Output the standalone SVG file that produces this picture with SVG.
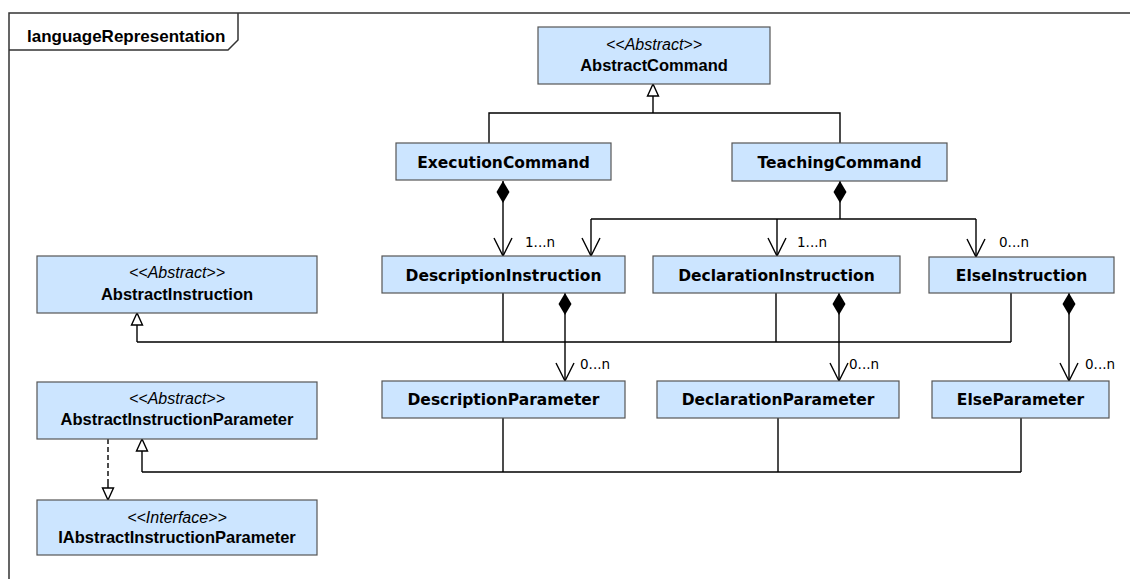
<svg xmlns="http://www.w3.org/2000/svg" width="1130" height="579" viewBox="0 0 1130 579">
<style>
.box{fill:#cce5ff;stroke:#555;stroke-width:1.2}
.h{font-family:"Liberation Sans",Arial,sans-serif;font-size:16.5px;font-weight:bold;text-anchor:middle;fill:#000}
.st{font-family:"Liberation Sans",Arial,sans-serif;font-size:16px;font-style:italic;text-anchor:middle;fill:#000}
.v{font-family:"DejaVu Sans",Verdana,sans-serif;font-size:15.5px;font-weight:bold;text-anchor:middle;fill:#000}
.m{font-family:"DejaVu Sans",Verdana,sans-serif;font-size:13.5px;fill:#000}
.ln{fill:none;stroke:#000;stroke-width:1.4}
.gen{marker-end:url(#tri)}
.comp{marker-start:url(#dia);marker-end:url(#vee)}
.dash{stroke-dasharray:5,3}
</style>
<defs>
<marker id="tri" markerUnits="userSpaceOnUse" viewBox="-13 -7 14 14" markerWidth="14" markerHeight="14" refX="0" refY="0" orient="auto" overflow="visible">
<path d="M0,0 L-12,-5.5 L-12,5.5 Z" fill="#fff" stroke="#000" stroke-width="1.4"/>
</marker>
<marker id="dia" markerUnits="userSpaceOnUse" viewBox="-1 -8 25 16" markerWidth="25" markerHeight="16" refX="0" refY="0" orient="auto" overflow="visible">
<path d="M0,0 L11,-6.5 L22,0 L11,6.5 Z" fill="#000"/>
</marker>
<marker id="vee" markerUnits="userSpaceOnUse" viewBox="-20 -11 22 22" markerWidth="22" markerHeight="22" refX="0" refY="0" orient="auto" overflow="visible">
<path d="M-18,-9 L0,0 L-18,9" fill="none" stroke="#000" stroke-width="1.4"/>
</marker>
</defs>
<rect width="1130" height="579" fill="#fff"/>
<g id="frame">
<path d="M9,600 V13 H1140" fill="none" stroke="#333" stroke-width="1.5"/>
<path d="M9,50 H228 L238,40 V13" fill="none" stroke="#333" stroke-width="1.5"/>
<text x="27" y="42" style="font-family:'Liberation Sans',Arial,sans-serif;font-size:17px;font-weight:bold">languageRepresentation</text>
</g>
<g id="connectors">
<path class="ln" d="M489,143 V113 H840 V143"/>
<path class="ln gen" d="M653,113 V84"/>
<path class="ln comp" d="M503,181 V256"/>
<path class="ln" marker-start="url(#dia)" d="M840,181 V219"/>
<path class="ln" d="M591,219 H976"/>
<path class="ln" marker-end="url(#vee)" d="M591,219 V256"/>
<path class="ln" marker-end="url(#vee)" d="M777,219 V256"/>
<path class="ln" marker-end="url(#vee)" d="M976,219 V257"/>
<path class="ln" d="M503,293 V342 M776,293 V342 M1011,293 V342 M137,342 H1011"/>
<path class="ln gen" d="M137,342 V313"/>
<path class="ln comp" d="M565,293 V381"/>
<path class="ln comp" d="M839,293 V381"/>
<path class="ln comp" d="M1069,293 V381"/>
<path class="ln" d="M503,418 V472 M778,418 V472 M1021,418 V472 M142,472 H1021"/>
<path class="ln gen" d="M142,472 V439"/>
<path class="ln dash" d="M108,439 V485"/>
<path class="ln gen" d="M108,484 V500"/>
<text class="m" x="525" y="247">1...n</text>
<text class="m" x="797" y="247">1...n</text>
<text class="m" x="999" y="247">0...n</text>
<text class="m" x="580" y="369">0...n</text>
<text class="m" x="849" y="369">0...n</text>
<text class="m" x="1085" y="369">0...n</text>
</g>
<g id="AbstractCommand">
<rect class="box" x="538" y="27" width="232" height="57"/>
<text class="st" x="654" y="50">&lt;&lt;Abstract&gt;&gt;</text>
<text class="h" x="654" y="71">AbstractCommand</text>
</g>
<g id="ExecutionCommand">
<rect class="box" x="396" y="143" width="215" height="37"/>
<text class="v" x="503.5" y="168">ExecutionCommand</text>
</g>
<g id="TeachingCommand">
<rect class="box" x="732" y="143" width="215" height="38"/>
<text class="v" x="839.5" y="168">TeachingCommand</text>
</g>
<g id="AbstractInstruction">
<rect class="box" x="37" y="256" width="280" height="57"/>
<text class="st" x="177" y="278">&lt;&lt;Abstract&gt;&gt;</text>
<text class="h" x="177" y="300">AbstractInstruction</text>
</g>
<g id="DescriptionInstruction">
<rect class="box" x="382" y="256" width="243" height="37"/>
<text class="v" x="503.5" y="281">DescriptionInstruction</text>
</g>
<g id="DeclarationInstruction">
<rect class="box" x="653" y="256" width="247" height="37"/>
<text class="v" x="776.5" y="281">DeclarationInstruction</text>
</g>
<g id="ElseInstruction">
<rect class="box" x="929" y="257" width="185" height="36"/>
<text class="v" x="1021.5" y="281">ElseInstruction</text>
</g>
<g id="AbstractInstructionParameter">
<rect class="box" x="37" y="382" width="280" height="57"/>
<text class="st" x="177" y="404">&lt;&lt;Abstract&gt;&gt;</text>
<text class="h" x="177" y="425">AbstractInstructionParameter</text>
</g>
<g id="DescriptionParameter">
<rect class="box" x="382" y="381" width="243" height="37"/>
<text class="v" x="503.5" y="405">DescriptionParameter</text>
</g>
<g id="DeclarationParameter">
<rect class="box" x="657" y="381" width="242" height="37"/>
<text class="v" x="778" y="405">DeclarationParameter</text>
</g>
<g id="ElseParameter">
<rect class="box" x="932" y="381" width="177" height="37"/>
<text class="v" x="1020.5" y="405">ElseParameter</text>
</g>
<g id="IAbstractInstructionParameter">
<rect class="box" x="37" y="500" width="280" height="55"/>
<text class="st" x="177" y="523">&lt;&lt;Interface&gt;&gt;</text>
<text class="h" x="177" y="543">IAbstractInstructionParameter</text>
</g>
</svg>
